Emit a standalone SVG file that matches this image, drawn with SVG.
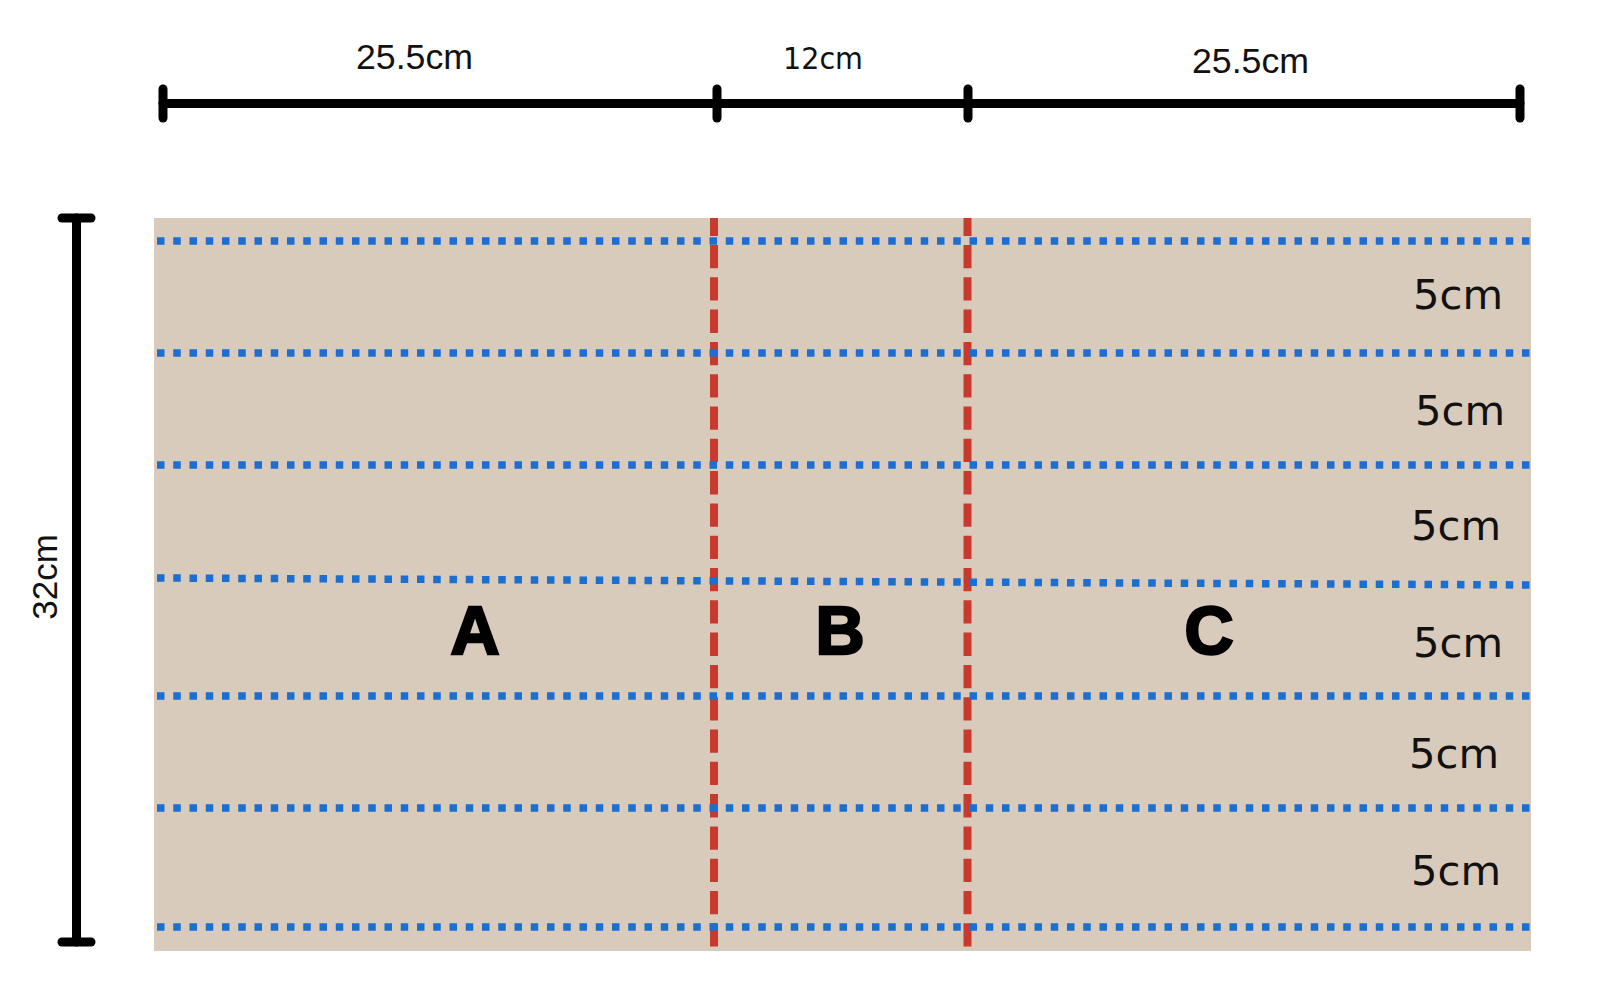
<svg xmlns="http://www.w3.org/2000/svg" width="1600" height="1000" viewBox="0 0 1600 1000">
  <style>
    .dim { stroke: #000; stroke-width: 9; stroke-linecap: round; fill: none; }
    .lbl { font-family: "Liberation Sans", Arial, sans-serif; font-size: 35px; fill: #111; }
    .lbl2 { font-family: "DejaVu Sans", sans-serif; fill: #111; }
    .big { font-family: "Liberation Sans", Arial, sans-serif; font-weight: bold; font-size: 68px; fill: #000; stroke: #000; stroke-width: 2.5; text-anchor: middle; }
    .fold { stroke: #c83a2e; stroke-width: 8; stroke-dasharray: 23.3 9; stroke-dashoffset: 5.3; fill: none; }
    .cut { stroke: #1a6fd0; stroke-width: 7.5; stroke-dasharray: 7.5 8.75; fill: none; }
  </style>
  <rect width="1600" height="1000" fill="#ffffff"/>

  <g id="dimension-top">
    <line class="dim" x1="163" y1="103.5" x2="1520" y2="103.5"/>
    <line class="dim" x1="163" y1="89" x2="163" y2="118"/>
    <line class="dim" x1="717" y1="89" x2="717" y2="118"/>
    <line class="dim" x1="968" y1="89" x2="968" y2="118"/>
    <line class="dim" x1="1520" y1="89" x2="1520" y2="118"/>
    <text class="lbl" x="356" y="69" textLength="117" lengthAdjust="spacingAndGlyphs">25.5cm</text>
    <text class="lbl2" x="783" y="69" font-size="31" textLength="80" lengthAdjust="spacingAndGlyphs">12cm</text>
    <text class="lbl" x="1192" y="73" textLength="117" lengthAdjust="spacingAndGlyphs">25.5cm</text>
  </g>

  <g id="dimension-left">
    <line class="dim" x1="76.5" y1="218" x2="76.5" y2="942"/>
    <line class="dim" x1="62" y1="218" x2="91" y2="218"/>
    <line class="dim" x1="62" y1="942" x2="91" y2="942"/>
    <text class="lbl" transform="translate(57 577) rotate(-90)" text-anchor="middle" x="0" y="0">32cm</text>
  </g>

  <g id="sheet">
    <rect x="154" y="218" width="1377" height="733" fill="#d9cbbc"/>
  </g>

  <g id="connectors">
    <line class="fold" x1="714" y1="218" x2="714" y2="951"/>
    <line class="fold" x1="967.5" y1="218" x2="967.5" y2="951"/>
    <line class="cut" x1="157" y1="241" x2="1531" y2="241"/>
    <line class="cut" x1="157" y1="353" x2="1531" y2="353"/>
    <line class="cut" x1="157" y1="465" x2="1531" y2="465"/>
    <line class="cut" x1="157" y1="578" x2="1531" y2="585"/>
    <line class="cut" x1="157" y1="696" x2="1531" y2="696"/>
    <line class="cut" x1="157" y1="808" x2="1531" y2="808"/>
    <line class="cut" x1="157" y1="927" x2="1531" y2="927"/>
  </g>

  <g id="section-A"><text class="big" x="475" y="654">A</text></g>
  <g id="section-B"><text class="big" x="840" y="654">B</text></g>
  <g id="section-C"><text class="big" x="1209" y="654">C</text></g>

  <g id="strip-labels">
    <text class="lbl2" x="1413" y="309" font-size="40" textLength="90" lengthAdjust="spacingAndGlyphs">5cm</text>
    <text class="lbl2" x="1415" y="425" font-size="40" textLength="90" lengthAdjust="spacingAndGlyphs">5cm</text>
    <text class="lbl2" x="1411" y="540" font-size="40" textLength="90" lengthAdjust="spacingAndGlyphs">5cm</text>
    <text class="lbl2" x="1413" y="657" font-size="40" textLength="90" lengthAdjust="spacingAndGlyphs">5cm</text>
    <text class="lbl2" x="1409" y="768" font-size="40" textLength="90" lengthAdjust="spacingAndGlyphs">5cm</text>
    <text class="lbl2" x="1411" y="885" font-size="40" textLength="90" lengthAdjust="spacingAndGlyphs">5cm</text>
  </g>
</svg>
